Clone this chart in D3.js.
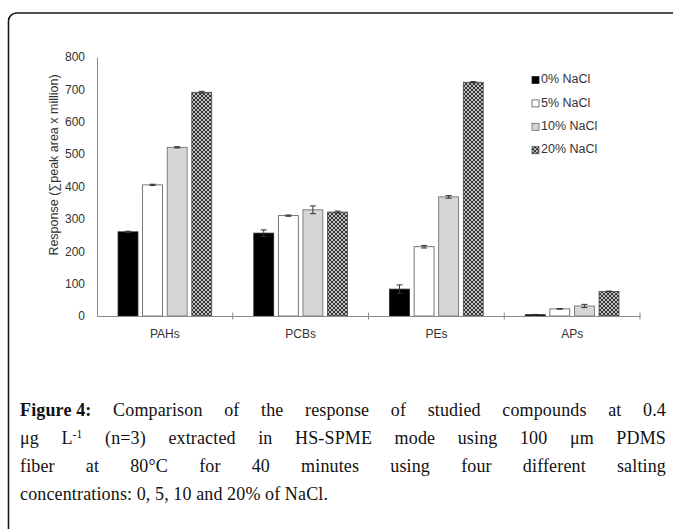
<!DOCTYPE html>
<html>
<head>
<meta charset="utf-8">
<script src="https://cdn.jsdelivr.net/npm/d3@7"></script>
<style>
  body { margin: 0; background: #fff; }
  .tick text { font-family: "Liberation Sans", Arial, sans-serif; }
</style>
</head>
<body>
<div id="chart"></div>
<script>

// ---------------- data ----------------
var categories = ["PAHs", "PCBs", "PEs", "APs"];
var series = ["0% NaCl", "5% NaCl", "10% NaCl", "20% NaCl"];
var nacl0  = [260, 256, 83, 4];
var nacl5  = [405, 310, 214, 22];
var nacl10 = [521, 328, 368, 31];
var nacl20 = [691, 321, 722, 76];
// error bars (+/-)
var err0  = [2, 10, 13, 1];
var err5  = [2, 2, 4, 1];
var err10 = [2, 12, 4, 5];
var err20 = [3, 3, 2, 1];
var yTicks = [0, 100, 200, 300, 400, 500, 600, 700, 800];
var yLabel = "Response (\u2211peak area x million)";

var captionLines = [
  [{t: "Figure 4:", b: true}, "Comparison", "of", "the", "response", "of", "studied", "compounds", "at", "0.4"],
  ["\u03BCg", [{t: "L"}, {t: "-1", sup: true}], "(n=3)", "extracted", "in", "HS-SPME", "mode", "using", "100", "\u03BCm", "PDMS"],
  ["fiber", "at", "80\u00B0C", "for", "40", "minutes", "using", "four", "different", "salting"],
  ["concentrations:", "0,", "5,", "10", "and", "20%", "of", "NaCl."]
];

// Set the dimensions of the canvas / graph
var W = 673, H = 529;
var margin = {top: 57, left: 97},
    width = 543,
    height = 259;

var values = [nacl0, nacl5, nacl10, nacl20];
var errors = [err0, err5, err10, err20];

var svg = d3.select("#chart").append("svg")
    .attr("width", W)
    .attr("height", H)
    .style("font-family", "'Liberation Sans', Arial, sans-serif");

// checker pattern for the 20% bars
var defs = svg.append("defs");
var pat = defs.append("pattern")
    .attr("id", "checker")
    .attr("patternUnits", "userSpaceOnUse")
    .attr("width", 4).attr("height", 4);
pat.append("rect").attr("width", 4).attr("height", 4).attr("fill", "#353535");
pat.append("rect").attr("x", 0).attr("y", 0).attr("width", 2).attr("height", 2).attr("fill", "#bdbdbd");
pat.append("rect").attr("x", 2).attr("y", 2).attr("width", 2).attr("height", 2).attr("fill", "#bdbdbd");

var fills = ["#000", "#fff", "#d6d6d6", "url(#checker)"];
var strokes = ["#222", "#555", "#666", "#444"];

// frame round the figure
svg.append("path")
    .attr("d", "M8.5," + (H + 5) + " L8.5,21 A8,8 0 0 1 16.5,13 L" + (W + 5) + ",13")
    .attr("fill", "none")
    .attr("stroke", "#1a1a1a")
    .attr("stroke-width", 1.6);

var g = svg.append("g")
    .attr("transform", "translate(" + margin.left + "," + margin.top + ")");

// scales
var x0 = d3.scaleBand().domain(categories).range([0, width])
    .paddingInner(0.31).paddingOuter(0.155);
var x1 = d3.scaleBand().domain(series).range([0, x0.bandwidth()])
    .paddingInner(0.19);
var y = d3.scaleLinear().domain([0, 800]).range([height, 0]);
var step = width / categories.length;

// bars
series.forEach(function(s, si) {
    var grp = g.append("g").attr("class", "series");
    categories.forEach(function(c, ci) {
        var v = values[si][ci];
        grp.append("rect")
            .attr("x", x0(c) + x1(s))
            .attr("y", y(v))
            .attr("width", x1.bandwidth())
            .attr("height", height - y(v))
            .attr("fill", fills[si])
            .attr("stroke", strokes[si])
            .attr("stroke-width", 0.8);
    });
});

// error bars
series.forEach(function(s, si) {
    categories.forEach(function(c, ci) {
        var v = values[si][ci], e = errors[si][ci];
        var cx = x0(c) + x1(s) + x1.bandwidth() / 2;
        var eb = g.append("g").attr("stroke", "#333").attr("stroke-width", 1);
        eb.append("line").attr("x1", cx).attr("x2", cx).attr("y1", y(v + e)).attr("y2", y(Math.max(0, v - e)));
        eb.append("line").attr("x1", cx - 3).attr("x2", cx + 3).attr("y1", y(v + e)).attr("y2", y(v + e));
        eb.append("line").attr("x1", cx - 3).attr("x2", cx + 3).attr("y1", y(Math.max(0, v - e))).attr("y2", y(Math.max(0, v - e)));
    });
});

// Y axis
var yAx = g.append("g")
    .attr("class", "y axis")
    .call(d3.axisLeft(y).tickValues(yTicks).tickSize(0).tickPadding(12));
yAx.select(".domain").attr("stroke", "#8a8a8a");
yAx.selectAll("text").style("font-size", "12px").attr("fill", "#333");

// X axis (ticks on category boundaries, crossing the line)
var xAx = g.append("g")
    .attr("class", "x axis")
    .attr("transform", "translate(0," + height + ")")
    .call(d3.axisBottom(x0).tickSize(0).tickPadding(13));
xAx.select(".domain").attr("stroke", "#8a8a8a");
xAx.selectAll("text").style("font-size", "12px").attr("fill", "#333");
categories.forEach(function(c, ci) {
    var bx = x0(c) - x0.step() * x0.paddingOuter() + step;
    xAx.append("line")
        .attr("x1", bx).attr("x2", bx)
        .attr("y1", -3.5).attr("y2", 3.5)
        .attr("stroke", "#8a8a8a");
});

// text label for the y axis
svg.append("text")
    .attr("transform", "translate(55," + (margin.top + 108) + ") rotate(-90)")
    .attr("text-anchor", "middle")
    .attr("dominant-baseline", "middle")
    .style("font-size", "12.5px")
    .attr("fill", "#333")
    .text(yLabel);

// legend
var legend = svg.append("g").attr("transform", "translate(532,80)");
series.forEach(function(s, i) {
    var row = legend.append("g").attr("transform", "translate(0," + (i * 23.4) + ")");
    row.append("rect")
        .attr("x", 0).attr("y", -3.5)
        .attr("width", 7).attr("height", 7)
        .attr("fill", fills[i])
        .attr("stroke", strokes[i])
        .attr("stroke-width", 0.8);
    row.append("text")
        .attr("x", 9).attr("y", 0)
        .attr("dominant-baseline", "middle")
        .style("font-size", "12.5px")
        .attr("fill", "#333")
        .text(s);
});

// ---------------- caption, justified word by word ----------------
var capLeft = 20, capRight = 666, capTop = 416, capLead = 28;
var cap = svg.append("g")
    .style("font-family", "'Liberation Serif', 'Times New Roman', serif")
    .style("font-size", "18px")
    .style("letter-spacing", "0.15px")
    .attr("fill", "#111");

captionLines.forEach(function(words, li) {
    var yy = capTop + li * capLead;
    var nodes = words.map(function(w) {
        var t = cap.append("text").attr("y", yy);
        var parts = typeof w === "string" ? [{t: w}] : (Array.isArray(w) ? w : [w]);
        parts.forEach(function(p) {
            var ts = t.append("tspan").text(p.t);
            if (p.b) ts.attr("font-weight", "bold");
            if (p.sup) ts.attr("baseline-shift", "super").style("font-size", "11.5px");
        });
        return t;
    });
    var widths = nodes.map(function(n) { return n.node().getComputedTextLength(); });
    var total = d3.sum(widths);
    var last = li === captionLines.length - 1;
    var gap = last ? 4.5 : (capRight - capLeft - total) / (nodes.length - 1);
    var cx = capLeft;
    nodes.forEach(function(n, i) {
        n.attr("x", cx);
        cx += widths[i] + gap;
    });
});

</script>
</body>
</html>
